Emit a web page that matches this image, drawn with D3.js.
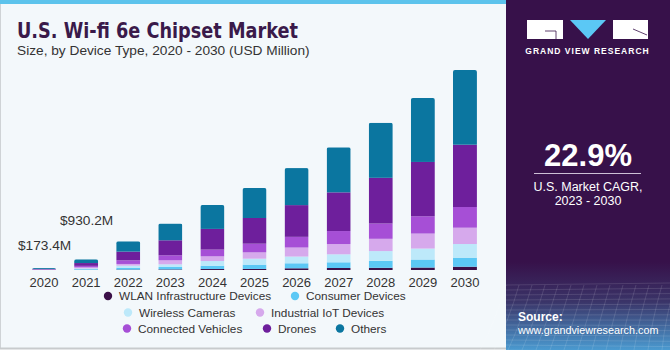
<!DOCTYPE html>
<html>
<head>
<meta charset="utf-8">
<script src="https://cdn.jsdelivr.net/npm/d3@7"></script>
<style>
  body { margin: 0; background: #ffffff; }
  svg { display: block; font-family: "Liberation Sans", Arial, sans-serif; }
</style>
</head>
<body>
<div id="chart"></div>
<script>
// data (USD Million)
const years = ["2020", "2021", "2022", "2023", "2024", "2025", "2026", "2027", "2028", "2029", "2030"]
const segments = ["WLAN Infrastructure Devices", "Consumer Devices", "Wireless Cameras", "Industrial IoT Devices", "Connected Vehicles", "Drones", "Others"]
const wlan       = [3, 15, 35, 50, 85, 90, 150, 175, 190, 215, 285]
const consumer   = [8, 60, 165, 210, 285, 375, 435, 495, 610, 695, 785]
const cameras    = [10, 70, 175, 235, 410, 520, 585, 695, 845, 955, 1190]
const iot        = [12, 85, 150, 350, 410, 550, 785, 895, 1070, 1305, 1420]
const vehicles   = [15, 130, 320, 435, 585, 755, 930, 1130, 1330, 1505, 1800]
const drones     = [50, 245, 755, 1305, 1800, 2235, 2760, 3365, 3975, 4725, 5420]
const others     = [75.4, 325.2, 895, 1455, 2090, 2610, 3220, 3915, 4785, 5570, 6500]
const colors     = ["#3b1048", "#5bc8f5", "#bde9fa", "#d6a9ec", "#a64fd6", "#6e1f9c", "#0b76a0"]
const callouts   = [{year: "2020", text: "$173.4M"}, {year: "2021", text: "$930.2M"}]

const W = 670, H = 350
const svg = d3.select("#chart").append("svg").attr("width", W).attr("height", H)

// left panel
svg.append("rect").attr("x", 0).attr("y", 0).attr("width", 506).attr("height", 349).attr("fill", "#f3f8fb")
svg.append("rect").attr("x", 0).attr("y", 0).attr("width", 506).attr("height", 4).attr("fill", "#5cc3ec")
svg.append("line").attr("x1", 0.5).attr("x2", 0.5).attr("y1", 4).attr("y2", 349).attr("stroke", "#cfd3d6")
svg.append("line").attr("x1", 0).attr("x2", 506).attr("y1", 348.5).attr("y2", 348.5).attr("stroke", "#c8cbcd").attr("stroke-width", 2)

svg.append("text").attr("x", 17).attr("y", 38).text("U.S. Wi-fi 6e Chipset Market")
    .style("font-size", "22px").style("font-weight", "900").style("fill", "#3a1a4a")
    .style("font-family", "'DejaVu Sans', sans-serif").attr("textLength", 281).attr("lengthAdjust", "spacingAndGlyphs")
svg.append("text").attr("x", 17).attr("y", 55).text("Size, by Device Type, 2020 - 2030 (USD Million)")
    .style("font-size", "13.7px").style("fill", "#333")

// scales
const x = d3.scaleBand().domain(years).range([23, 486]).paddingInner(0.43).paddingOuter(0.215)
const y = d3.scaleLinear().domain([0, 17400]).range([270, 70])

const rows = years.map((yr, i) => {
    const r = {year: yr}
    const vals = [wlan, consumer, cameras, iot, vehicles, drones, others]
    segments.forEach((s, j) => r[s] = vals[j][i])
    return r
})
const stack = d3.stack().keys(segments)(rows)
const totals = rows.map(r => d3.sum(segments, s => r[s]))

const defs = svg.append("defs")
years.forEach((yr, i) => {
    defs.append("clipPath").attr("id", "clip" + yr)
      .append("rect")
        .attr("x", x(yr)).attr("y", y(totals[i]))
        .attr("width", x.bandwidth()).attr("height", y(0) - y(totals[i]) + 3)
        .attr("rx", 2)
})

const bars = svg.append("g")
years.forEach((yr, i) => {
    const g = bars.append("g").attr("clip-path", "url(#clip" + yr + ")")
    stack.forEach((layer, j) => {
        const d = layer[i]
        g.append("rect")
            .attr("x", x(yr))
            .attr("y", y(d[1]))
            .attr("width", x.bandwidth())
            .attr("height", Math.max(0, y(d[0]) - y(d[1])))
            .attr("fill", colors[j])
    })
})

// year axis
const axis = svg.append("g").attr("transform", "translate(0,270)")
    .call(d3.axisBottom(x).tickSize(0).tickPadding(8))
axis.select(".domain").remove()
axis.selectAll("text").style("font-size", "13px").style("fill", "#333").style("font-family", "'Liberation Sans', Arial, sans-serif")

// value callouts
svg.append("text").attr("x", 18).attr("y", 250).text(callouts[0].text).style("font-size", "13.7px").style("fill", "#333")
svg.append("text").attr("x", 60).attr("y", 225).text(callouts[1].text).style("font-size", "13.7px").style("fill", "#333")

// legend
const legendPos = [[108, 296], [295, 296], [128, 312.5], [260, 312.5], [127, 328.5], [267, 328.5], [340, 328.5]]
segments.forEach((s, j) => {
    const p = legendPos[j]
    svg.append("circle").attr("cx", p[0]).attr("cy", p[1]).attr("r", 4.2).attr("fill", colors[j])
    svg.append("text").attr("x", p[0] + 11).attr("y", p[1] + 4.3).text(s).style("font-size", "11.8px").style("fill", "#333")
})

// right panel
svg.append("rect").attr("x", 506).attr("y", 0).attr("width", 164).attr("height", 350).attr("fill", "#37114a")
const grad = defs.append("linearGradient").attr("id", "foot").attr("x1", 0).attr("x2", 0).attr("y1", 0).attr("y2", 1)
grad.append("stop").attr("offset", "0%").attr("stop-color", "#37114a")
grad.append("stop").attr("offset", "45%").attr("stop-color", "#3a3468")
grad.append("stop").attr("offset", "100%").attr("stop-color", "#4a9ad0")
svg.append("rect").attr("x", 506).attr("y", 262).attr("width", 164).attr("height", 88).attr("fill", "url(#foot)")
const mesh = svg.append("g").attr("stroke", "#ffffff").attr("stroke-opacity", 0.12).attr("fill", "none")
d3.range(0, 14).forEach(k => {
    mesh.append("path").attr("d", `M${506 + k * 13} 285 Q ${506 + k * 13 - 10} 320 ${500 + k * 14 - 20} 350`)
    mesh.append("path").attr("d", `M506 ${285 + k * 5} L670 ${283 + k * 5.3}`)
})

// logo
svg.append("rect").attr("x", 527).attr("y", 20).attr("width", 36).attr("height", 19).attr("fill", "#fff")
svg.append("path").attr("d", "M545 31 L556 31 L556 39").attr("stroke", "#37114a").attr("fill", "none").attr("stroke-width", 0.8)
svg.append("path").attr("d", "M570 20 L606 20 L588 39 Z").attr("fill", "#5bc8f5")
svg.append("rect").attr("x", 613).attr("y", 20).attr("width", 35).attr("height", 19).attr("fill", "#fff")
svg.append("path").attr("d", "M633 29 L647 35").attr("stroke", "#37114a").attr("stroke-width", 0.8)
svg.append("text").attr("x", 587.5).attr("y", 54).attr("text-anchor", "middle").text("GRAND VIEW RESEARCH")
    .style("font-size", "8.5px").style("font-weight", "bold").style("fill", "#fff").style("letter-spacing", "1px")

svg.append("text").attr("x", 588).attr("y", 166).attr("text-anchor", "middle").text("22.9%")
    .style("font-size", "31px").style("font-weight", "bold").style("fill", "#fff")
svg.append("line").attr("x1", 534).attr("x2", 641).attr("y1", 173.5).attr("y2", 173.5).attr("stroke", "#cdbfd6").attr("stroke-width", 1)
svg.append("text").attr("x", 588).attr("y", 191).attr("text-anchor", "middle").text("U.S. Market CAGR,")
    .style("font-size", "12.5px").style("fill", "#fff")
svg.append("text").attr("x", 588).attr("y", 205).attr("text-anchor", "middle").text("2023 - 2030")
    .style("font-size", "12.5px").style("fill", "#fff")

svg.append("text").attr("x", 518).attr("y", 321).text("Source:")
    .style("font-size", "12px").style("font-weight", "bold").style("fill", "#fff")
svg.append("text").attr("x", 518).attr("y", 334).text("www.grandviewresearch.com")
    .style("font-size", "10.8px").style("fill", "#fff")
</script>
</body>
</html>
